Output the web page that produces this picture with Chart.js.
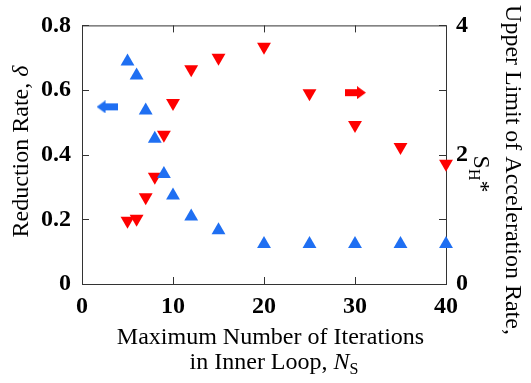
<!DOCTYPE html>
<html>
<head>
<meta charset="utf-8">
<script src="https://cdn.jsdelivr.net/npm/chart.js@4.4.0/dist/chart.umd.min.js"></script>
<style>
  body { margin: 0; background: #fff; }
  #wrap { width: 531px; height: 383px; position: relative; }
</style>
</head>
<body>
<div id="wrap"><canvas id="chart"></canvas></div>
<script>
// Maximum number of iterations in the inner loop, N_S
const iterations = [5, 6, 7, 8, 9, 10, 12, 15, 20, 25, 30, 35, 40];
// Reduction rate delta (left axis, blue)
const reductionRate = [0.688, 0.645, 0.537, 0.449, 0.340, 0.274, 0.209, 0.166, 0.124, 0.124, 0.124, 0.124, 0.124];
// Upper limit of acceleration rate S_H* (right axis, red)
const accelLimit = [0.98, 1.01, 1.34, 1.66, 2.31, 2.80, 3.32, 3.50, 3.67, 2.95, 2.46, 2.12, 1.86];

// Arrows pointing each series to its axis
const leftArrowX = [2.75];
const leftArrowY = [0.548];
const rightArrowX = [30.05];
const rightArrowY = [2.96];

// Tick values and labels
const xTicks = [0, 10, 20, 30, 40];
const xTickLabels = ['0', '10', '20', '30', '40'];
const leftTicks = [0, 0.2, 0.4, 0.6, 0.8];
const leftTickLabels = ['0', '0.2', '0.4', '0.6', '0.8'];
const rightTicks = [0, 1, 2, 3, 4];
const rightTickLabels = ['0', '', '2', '', '4'];

const blue = '#1f6ff2';
const red = '#fe0000';
const serif = 'Liberation Serif';

Chart.defaults.font.family = serif;
const tickFont = { family: serif, size: 24, weight: 'bold' };

// Small arrow image used as a point style
function makeArrow(color, pointLeft) {
    const c = document.createElement('canvas');
    c.width = 21;
    c.height = 13;
    const g = c.getContext('2d');
    if (pointLeft) {
        g.translate(21, 0);
        g.scale(-1, 1);
    }
    g.fillStyle = color;
    g.beginPath();
    g.moveTo(0, 3);
    g.lineTo(12, 3);
    g.lineTo(12, 0);
    g.lineTo(21, 6.5);
    g.lineTo(12, 13);
    g.lineTo(12, 10);
    g.lineTo(0, 10);
    g.closePath();
    g.fill();
    return c;
}

function toPoints(xs, ys) {
    return xs.map((x, i) => ({ x: x, y: ys[i] }));
}

// Draw a line of mixed-font text centred on (0,0) in the current transform
function drawRuns(ctx, runs) {
    let total = 0;
    runs.forEach(r => {
        ctx.font = r.font;
        r.w = ctx.measureText(r.text).width;
        total += r.w;
    });
    let x = -total / 2;
    ctx.textAlign = 'left';
    ctx.textBaseline = 'alphabetic';
    runs.forEach(r => {
        ctx.font = r.font;
        ctx.fillText(r.text, x, r.dy || 0);
        x += r.w;
    });
}

// Frame, inward tick marks and axis titles
const frameAndTitles = {
    id: 'frameAndTitles',
    beforeDatasetsDraw(chart) {
        const { ctx, chartArea: a, scales } = chart;
        ctx.save();
        ctx.strokeStyle = '#333';
        ctx.lineWidth = 1;
        ctx.strokeRect(a.left + 0.5, a.top + 0.5, a.right - a.left, a.bottom - a.top);
        const len = 7;
        ctx.beginPath();
        xTicks.forEach(v => {
            const px = Math.round(scales.x.getPixelForValue(v)) + 0.5;
            ctx.moveTo(px, a.bottom);
            ctx.lineTo(px, a.bottom - len);
            ctx.moveTo(px, a.top);
            ctx.lineTo(px, a.top + len);
        });
        leftTicks.forEach(v => {
            const py = Math.round(scales.y.getPixelForValue(v)) + 0.5;
            ctx.moveTo(a.left, py);
            ctx.lineTo(a.left + len, py);
        });
        rightTicks.forEach(v => {
            const py = Math.round(scales.y2.getPixelForValue(v)) + 0.5;
            ctx.moveTo(a.right, py);
            ctx.lineTo(a.right - len, py);
        });
        ctx.stroke();
        ctx.restore();
    },
    afterDraw(chart) {
        const ctx = chart.ctx;
        const normal = '24px "' + serif + '"';
        const italic = 'italic 24px "' + serif + '"';
        const small = '16px "' + serif + '"';
        ctx.save();
        ctx.fillStyle = '#000';

        // x title, two lines
        ctx.save();
        ctx.translate(270.5, 343.5);
        drawRuns(ctx, [{ text: 'Maximum Number of Iterations', font: normal }]);
        ctx.restore();
        ctx.save();
        ctx.translate(274, 368.5);
        drawRuns(ctx, [
            { text: 'in Inner Loop, ', font: normal },
            { text: 'N', font: italic },
            { text: 'S', font: small, dy: 5 }
        ]);
        ctx.restore();

        // left title
        ctx.save();
        ctx.translate(28, 151.5);
        ctx.rotate(-Math.PI / 2);
        drawRuns(ctx, [
            { text: 'Reduction Rate, ', font: normal },
            { text: 'δ', font: italic }
        ]);
        ctx.restore();

        // right title, two lines
        ctx.save();
        ctx.translate(505.5, 170);
        ctx.rotate(Math.PI / 2);
        drawRuns(ctx, [{ text: 'Upper Limit of Acceleration Rate,', font: normal }]);
        ctx.restore();
        ctx.save();
        ctx.translate(474, 174);
        ctx.rotate(Math.PI / 2);
        drawRuns(ctx, [
            { text: 'S', font: normal },
            { text: 'H', font: small, dy: 5 },
            { text: '*', font: normal }
        ]);
        ctx.restore();

        ctx.restore();
    }
};

const ctx = document.getElementById('chart').getContext('2d');
const chart = new Chart(ctx, {
    type: 'scatter',
    data: {
        datasets: [
            {
                label: 'Reduction Rate',
                data: toPoints(iterations, reductionRate),
                yAxisID: 'y',
                pointStyle: 'triangle',
                pointRadius: 8,
                pointRotation: 0,
                backgroundColor: blue,
                borderColor: blue,
                borderWidth: 0,
                clip: false
            },
            {
                label: 'Upper Limit of Acceleration Rate',
                data: toPoints(iterations, accelLimit),
                yAxisID: 'y2',
                pointStyle: 'triangle',
                pointRadius: 8,
                pointRotation: 180,
                backgroundColor: red,
                borderColor: red,
                borderWidth: 0,
                clip: false
            },
            {
                label: 'left arrow',
                data: toPoints(leftArrowX, leftArrowY),
                yAxisID: 'y',
                pointStyle: makeArrow(blue, true),
                pointRadius: 10,
                clip: false
            },
            {
                label: 'right arrow',
                data: toPoints(rightArrowX, rightArrowY),
                yAxisID: 'y2',
                pointStyle: makeArrow(red, false),
                pointRadius: 10,
                clip: false
            }
        ]
    },
    options: {
        responsive: true,
        maintainAspectRatio: false,
        animation: false,
        layout: { padding: { top: 25, left: 0, right: 0, bottom: 0 } },
        scales: {
            x: {
                type: 'linear',
                min: 0,
                max: 40,
                afterBuildTicks: s => { s.ticks = xTicks.map(v => ({ value: v })); },
                afterFit: s => { s.height = 99; },
                grid: { display: false, drawTicks: false },
                border: { display: false },
                ticks: {
                    padding: 8,
                    color: '#000',
                    font: tickFont,
                    autoSkip: false,
                    maxRotation: 0,
                    callback: (v, i) => xTickLabels[i]
                }
            },
            y: {
                type: 'linear',
                position: 'left',
                min: 0,
                max: 0.8,
                afterBuildTicks: s => { s.ticks = leftTicks.map(v => ({ value: v })); },
                afterFit: s => { s.width = 82; },
                grid: { display: false, drawTicks: false },
                border: { display: false },
                ticks: {
                    padding: 11,
                    color: '#000',
                    font: tickFont,
                    autoSkip: false,
                    callback: (v, i) => leftTickLabels[i]
                }
            },
            y2: {
                type: 'linear',
                position: 'right',
                min: 0,
                max: 4,
                afterBuildTicks: s => { s.ticks = rightTicks.map(v => ({ value: v })); },
                afterFit: s => { s.width = 85; },
                grid: { display: false, drawTicks: false },
                border: { display: false },
                ticks: {
                    padding: 10,
                    color: '#000',
                    font: tickFont,
                    autoSkip: false,
                    callback: (v, i) => rightTickLabels[i]
                }
            }
        },
        plugins: {
            legend: { display: false },
            tooltip: { enabled: false }
        }
    },
    plugins: [frameAndTitles]
});
</script>
</body>
</html>
